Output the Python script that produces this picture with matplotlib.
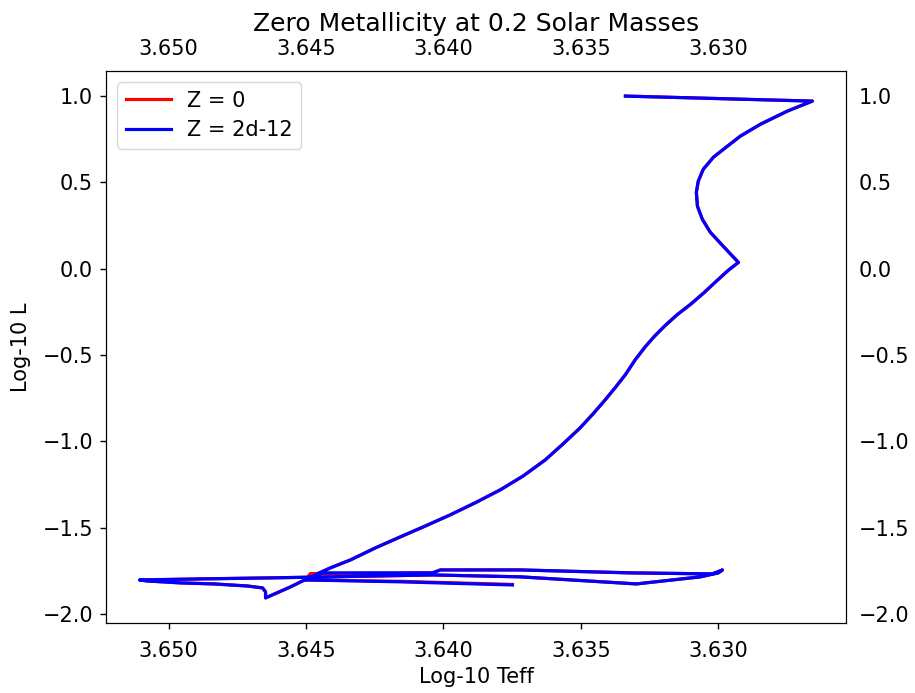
import matplotlib
matplotlib.use("Agg")
import matplotlib.pyplot as plt

# Track in the HR plane: log10 Teff and log10 L, one list per metallicity
teff_z2d12 = [3.63338, 3.62658,
              3.62749, 3.62847, 3.62920, 3.62967, 3.63018, 3.63055, 3.63073,
              3.63080, 3.63076, 3.63058, 3.63029, 3.62982, 3.62927,
              3.62964, 3.63004, 3.63051, 3.63102, 3.63149, 3.63193, 3.63233,
              3.63265, 3.63302, 3.63338, 3.63375, 3.63411, 3.63455, 3.63502,
              3.63564, 3.63629, 3.63709, 3.63793, 3.63884, 3.63975, 3.64065,
              3.64156, 3.64247, 3.64338, 3.64411, 3.64476, 3.64556, 3.64647,
              3.64647, 3.64658, 3.64713, 3.64836, 3.64956, 3.65076, 3.65105,
              3.64884, 3.64629, 3.64411, 3.64040, 3.63720, 3.63298, 3.63065,
              3.63000, 3.62985, 3.63022, 3.63320, 3.63720, 3.64011, 3.64040,
              3.64440, 3.64502, 3.64156, 3.63749]
logl_z2d12 = [0.999, 0.970,
              0.912, 0.836, 0.767, 0.709, 0.645, 0.575, 0.506,
              0.442, 0.361, 0.285, 0.210, 0.129, 0.036,
              -0.010, -0.068, -0.138, -0.208, -0.266, -0.329, -0.393,
              -0.451, -0.527, -0.614, -0.689, -0.759, -0.840, -0.921,
              -1.014, -1.107, -1.200, -1.281, -1.356, -1.426, -1.490,
              -1.553, -1.617, -1.687, -1.733, -1.780, -1.843, -1.907,
              -1.872, -1.849, -1.838, -1.826, -1.820, -1.809, -1.803,
              -1.797, -1.791, -1.785, -1.774, -1.785, -1.826, -1.785,
              -1.762, -1.745, -1.768, -1.762, -1.745, -1.745, -1.762,
              -1.762, -1.803, -1.814, -1.832]

teff_z0 = list(teff_z2d12)
logl_z0 = list(logl_z2d12)
# the Z = 0 run turns back a little further to the hot side
turn = teff_z2d12.index(3.64440)
teff_z0[turn] = 3.64484
logl_z0[turn] = -1.766
logl_z0[-2] = -1.811
logl_z0[-1] = -1.829

xticks = [3.650, 3.645, 3.640, 3.635, 3.630]
yticks = [1.0, 0.5, 0.0, -0.5, -1.0, -1.5, -2.0]

fig = plt.figure(figsize=(9.15, 6.93), dpi=100)
ax = fig.add_axes([106 / 915, 70 / 693, 740 / 915, 552 / 693])

ax.plot(teff_z0, logl_z0, color="red", lw=2.3, label="Z = 0")
ax.plot(teff_z2d12, logl_z2d12, color="blue", lw=2.3, label="Z = 2d-12")
ax.invert_xaxis()

ax.set_xticks(xticks)
ax.set_yticks(yticks)
ax.tick_params(labelsize=15, length=4.3, width=1.0, right=False, labelright=True)
ax.tick_params(axis="x", pad=8.5)
ax.tick_params(axis="y", pad=5)

# top labels only, no tick marks
top = ax.twiny()
top.set_xlim(ax.get_xlim())
top.set_xticks(xticks)
top.tick_params(labelsize=15, length=0, pad=8.3)

ax.set_xlabel("Log-10 Teff", fontsize=15, labelpad=4.5)
ax.set_ylabel("Log-10 L", fontsize=15, labelpad=8.5)
ax.set_title("Zero Metallicity at 0.2 Solar Masses", fontsize=18, pad=29)
ax.legend(loc="upper left", fontsize=15, handlelength=2.15,
          borderaxespad=0.55, labelspacing=0.45)

fig.savefig("out.png", dpi=100)
